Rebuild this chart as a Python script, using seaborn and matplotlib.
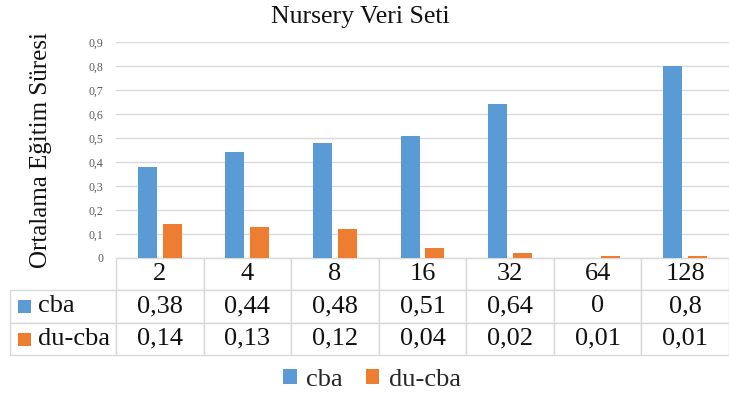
import matplotlib
matplotlib.use('Agg')
import matplotlib.pyplot as plt
import seaborn as sns
import pandas as pd
from matplotlib.patches import Rectangle, Patch

# ---- data ----
categories = ['2', '4', '8', '16', '32', '64', '128']
cba = [0.38, 0.44, 0.48, 0.51, 0.64, 0, 0.8]
du_cba = [0.14, 0.13, 0.12, 0.04, 0.02, 0.01, 0.01]
series_names = ['cba', 'du-cba']
colors = ['#5B9BD5', '#ED7D31']
yticks = [0, 0.1, 0.2, 0.3, 0.4, 0.5, 0.6, 0.7, 0.8, 0.9]
ytick_labels = ['0', '0,1', '0,2', '0,3', '0,4', '0,5', '0,6', '0,7', '0,8', '0,9']
title = 'Nursery Veri Seti'
ylabel = 'Ortalama Eğitim Süresi'


def fmt(v):
    return f'{v:g}'.replace('.', ',')


df = pd.DataFrame({
    'k': categories * 2,
    'v': cba + du_cba,
    's': [series_names[0]] * len(cba) + [series_names[1]] * len(du_cba),
})

sns.set_theme(style='white')
plt.rcParams['font.family'] = ['Liberation Serif', 'DejaVu Serif']

W, H = 729, 397
fig = plt.figure(figsize=(W / 100, H / 100), dpi=100)
left, right, bottom, top = 116, 729, 258, 42
ax = fig.add_axes([left / W, (H - bottom) / H, (right - left) / W, (bottom - top) / H])

sns.barplot(data=df, x='k', y='v', hue='s', order=categories, hue_order=series_names,
            palette=colors, width=0.57, gap=0.24, ax=ax, legend=False, saturation=1,
            linewidth=0, edgecolor='none')

ax.set_ylim(0, 0.9)
ax.set_yticks(yticks)
ax.set_yticklabels(ytick_labels)
ax.tick_params(axis='y', length=0, labelsize=8.5, labelcolor='#595959', pad=9)
ax.tick_params(axis='x', bottom=False, labelbottom=False)
ax.set_xlabel('')
ax.grid(axis='y', color='#D9D9D9', linewidth=1)
ax.set_axisbelow(True)
for sp in ax.spines.values():
    sp.set_visible(False)

ax.set_ylabel(ylabel, fontsize=18, color='#111111')
ax.yaxis.set_label_coords(-0.105, 0.5)

fig.text(360 / W, 1 - 17 / H, title, ha='center', va='center', fontsize=18.5, color='#111111')

# ---- data table ----
aw = right - left
ah = bottom - top
tab_left, tab_bottom = 10, 355
rows = [[name] + [fmt(v) for v in vals] for name, vals in zip(series_names, [cba, du_cba])]
label_w = left - tab_left
col_w = aw / len(categories)
tbl = ax.table(cellText=rows, colLabels=[''] + categories,
               colWidths=[label_w] + [col_w] * len(categories),
               cellLoc='center',
               bbox=[(tab_left - left) / aw, (bottom - tab_bottom) / ah,
                     (right - tab_left) / aw, (tab_bottom - bottom) / ah])
tbl.auto_set_font_size(False)
tbl.set_fontsize(19)
for (r, c), cell in tbl.get_celld().items():
    cell.set_edgecolor('#D9D9D9')
    cell.set_linewidth(1)
    cell.get_text().set_color('#111111')
    if r == 0 and c == 0:
        cell.visible_edges = ''
    if r > 0 and c == 0:
        cell.get_text().set_ha('left')
        cell._loc = 'left'
        cell.PAD = 0.265

# legend keys in table
for i, (y0, col) in enumerate(zip([300, 333], colors)):
    fig.patches.append(Rectangle((18 / W, 1 - (y0 + 13) / H), 13 / W, 13 / H,
                                 transform=fig.transFigure, facecolor=col, edgecolor='none'))

handles = [Patch(facecolor=c, edgecolor='none') for c in colors]
fig.legend(handles, series_names, loc='center', bbox_to_anchor=(372 / W, 1 - 380 / H),
           ncol=2, frameon=False, fontsize=19, handlelength=0.5, handleheight=0.5,
           handletextpad=0.35, columnspacing=0.9)

fig.savefig('out.png', dpi=100)
